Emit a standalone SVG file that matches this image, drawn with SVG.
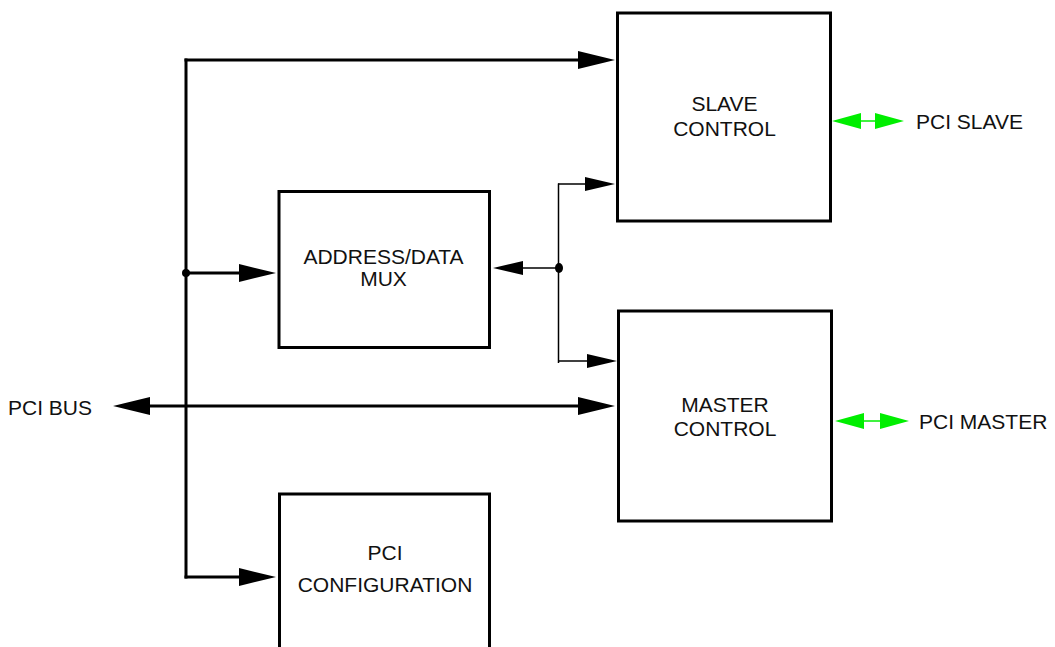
<svg xmlns="http://www.w3.org/2000/svg" width="1055" height="647" viewBox="0 0 1055 647">
<style>
.box{fill:#fff;stroke:#000;stroke-width:3}
.bus{fill:none;stroke:#000;stroke-width:3}
.thin{fill:none;stroke:#000;stroke-width:1.5}
.grn{fill:none;stroke:#00ee00;stroke-width:1.5}
text{font-family:"Liberation Sans",Arial,sans-serif;font-size:21px;fill:#111}
.c{text-anchor:middle}
</style>
<defs>
<marker id="big" viewBox="0 0 37 18" refX="17" refY="9" markerWidth="37" markerHeight="18" markerUnits="userSpaceOnUse" orient="auto-start-reverse">
<path d="M0,0 L37,9 L0,18 Z" fill="#000"/>
</marker>
<marker id="small" viewBox="0 0 30 14" refX="15" refY="7" markerWidth="30" markerHeight="14" markerUnits="userSpaceOnUse" orient="auto-start-reverse">
<path d="M0,0 L30,7 L0,14 Z" fill="#000"/>
</marker>
<marker id="green" viewBox="0 0 29 16" refX="14" refY="8" markerWidth="29" markerHeight="16" markerUnits="userSpaceOnUse" orient="auto-start-reverse">
<path d="M0,0 L29,8 L0,16 Z" fill="#00ee00"/>
</marker>
</defs>
<g id="slave-control">
<rect class="box" x="617.5" y="13" width="213" height="208"/>
<text class="c" x="724.5" y="111">SLAVE</text>
<text class="c" x="724.5" y="136">CONTROL</text>
</g>
<g id="address-data-mux">
<rect class="box" x="279" y="191.5" width="210.5" height="156"/>
<text class="c" x="383.5" y="264">ADDRESS/DATA</text>
<text class="c" x="383.5" y="286">MUX</text>
</g>
<g id="master-control">
<rect class="box" x="618.5" y="311" width="213" height="210"/>
<text class="c" x="725" y="412">MASTER</text>
<text class="c" x="725" y="436">CONTROL</text>
</g>
<g id="pci-configuration">
<rect class="box" x="279.5" y="494" width="210" height="200"/>
<text class="c" x="385" y="560">PCI</text>
<text class="c" x="385" y="592">CONFIGURATION</text>
</g>
<g id="labels">
<text x="8" y="415">PCI BUS</text>
<text x="916" y="129">PCI SLAVE</text>
<text x="919" y="429">PCI MASTER</text>
</g>
<g id="connectors">
<line class="bus" x1="186" y1="58.5" x2="186" y2="578.5"/>
<line class="bus" x1="184.5" y1="60" x2="595" y2="60" marker-end="url(#big)"/>
<line class="bus" x1="186" y1="273" x2="256" y2="273" marker-end="url(#big)"/>
<line class="bus" x1="184.5" y1="577" x2="256" y2="577" marker-end="url(#big)"/>
<line class="bus" x1="133" y1="406" x2="595" y2="406" marker-start="url(#big)" marker-end="url(#big)"/>
<circle cx="186" cy="273" r="4" fill="#000"/>
<line class="thin" x1="558.5" y1="183.5" x2="558.5" y2="363"/>
<line class="thin" x1="558" y1="184" x2="600" y2="184" marker-end="url(#small)"/>
<line class="thin" x1="558" y1="361" x2="602" y2="361" marker-end="url(#small)"/>
<line class="thin" x1="508" y1="268" x2="558.5" y2="268" marker-start="url(#small)"/>
<ellipse cx="559" cy="268" rx="4" ry="5" fill="#000"/>
<line class="grn" x1="847" y1="121" x2="889" y2="121" marker-start="url(#green)" marker-end="url(#green)"/>
<line class="grn" x1="850" y1="421" x2="894" y2="421" marker-start="url(#green)" marker-end="url(#green)"/>
</g>
</svg>
